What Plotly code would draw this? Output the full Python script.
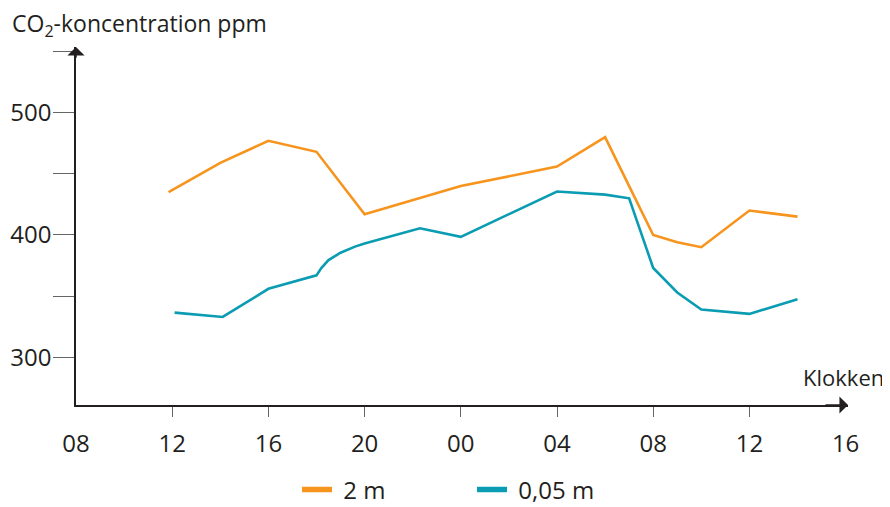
import plotly.graph_objects as go

# ---- data (hours counted from 08 on day 1; 24 = 00, 32 = 08 next day) ----
hours_2m = [11.85, 14, 16, 18, 20, 24, 28, 30, 31, 32, 33, 34, 36, 38]
co2_2m = [435, 459, 477, 468, 417, 440, 456, 480, 440, 400, 394, 390, 420, 415]

hours_005m = [12.1, 14.1, 16, 18, 18.2, 18.5, 19, 19.6, 20, 22.3, 24, 28, 30, 31, 32, 33, 34, 36, 38]
co2_005m = [336.5, 333, 356, 367, 373, 379.5, 385.5, 390.5, 393, 405.5, 398.5, 435.5, 433, 430, 373, 353, 339, 335.5, 347.5]

x_tick_marks = [12, 16, 20, 24, 28, 32, 36]
x_label_vals = [8, 12, 16, 20, 24, 28, 32, 36, 40]
x_label_text = ["08", "12", "16", "20", "00", "04", "08", "12", "16"]
y_label_vals = [300, 400, 500]
y_label_text = ["300", "400", "500"]
y_minor_step = 50

ORANGE = "#F7941D"
TEAL = "#0A9CB2"
TXT = "#231F20"
FONT = "Open Sans, Noto Sans, sans-serif"

X_RANGE = [8, 40.1]
Y_RANGE = [261, 553.7]

fig = go.Figure()
fig.add_trace(go.Scatter(x=hours_2m, y=co2_2m, mode="lines",
                         line=dict(color=ORANGE, width=2.6), showlegend=False, hoverinfo="skip"))
fig.add_trace(go.Scatter(x=hours_005m, y=co2_005m, mode="lines",
                         line=dict(color=TEAL, width=2.6), showlegend=False, hoverinfo="skip"))
# legend entries
fig.add_trace(go.Scatter(x=[None], y=[None], mode="lines", name="\u00a02 m",
                         line=dict(color=ORANGE, width=5.5), legend="legend"))
fig.add_trace(go.Scatter(x=[None], y=[None], mode="lines", name="\u00a00,05 m",
                         line=dict(color=TEAL, width=5.5), legend="legend2"))
# invisible trace to carry label axis
fig.add_trace(go.Scatter(x=X_RANGE, y=[None, None], xaxis="x2", mode="lines",
                         showlegend=False, hoverinfo="skip"))

legend_common = dict(orientation="h", xanchor="left", y=-0.2374, yanchor="middle",
                     font=dict(family=FONT, size=24, color=TXT),
                     bgcolor="rgba(0,0,0,0)")

fig.update_layout(
    width=882, height=499,
    margin=dict(l=68, r=42, t=39, b=102, pad=0, autoexpand=False),
    paper_bgcolor="white", plot_bgcolor="white",
    font=dict(family=FONT, size=24, color=TXT),
    xaxis=dict(range=X_RANGE, showgrid=False, zeroline=False, automargin=False,
               showline=True, linecolor=TXT, linewidth=1.5,
               ticks="outside", tickvals=x_tick_marks, ticklen=10, tickwidth=1,
               tickcolor="#666", showticklabels=False),
    xaxis2=dict(range=X_RANGE, overlaying="x", anchor="y", side="bottom", automargin=False,
                showgrid=False, zeroline=False, showline=False,
                tickvals=x_label_vals, ticktext=x_label_text,
                ticks="outside", ticklen=17, tickcolor="rgba(0,0,0,0)",
                tickfont=dict(family=FONT, size=24, color=TXT)),
    yaxis=dict(range=Y_RANGE, showgrid=False, zeroline=False, automargin=False,
               showline=True, linecolor=TXT, linewidth=1.5,
               ticks="outside", tickvals=y_label_vals, ticktext=y_label_text,
               ticklen=21, tickwidth=1, tickcolor="#666",
               ticklabelstandoff=-3,
               minor=dict(ticks="outside", dtick=y_minor_step, tick0=0, ticklen=21,
                          tickwidth=1, tickcolor="#666", showgrid=False),
               tickfont=dict(family=FONT, size=24, color=TXT)),
    legend=dict(x=0.2863, **legend_common),
    legend2=dict(x=0.5130, **legend_common),
    showlegend=True,
)

# axis arrowheads
fig.add_annotation(x=X_RANGE[1], y=Y_RANGE[0], ax=X_RANGE[1] - 1, ay=Y_RANGE[0],
                   xref="x", yref="y", axref="x", ayref="y", text="",
                   showarrow=True, arrowhead=1, arrowsize=1.9, arrowwidth=1.5,
                   arrowcolor=TXT, standoff=0)
fig.add_annotation(x=X_RANGE[0], y=Y_RANGE[1], ax=X_RANGE[0], ay=Y_RANGE[1] - 10,
                   xref="x", yref="y", axref="x", ayref="y", text="",
                   showarrow=True, arrowhead=1, arrowsize=1.9, arrowwidth=1.5,
                   arrowcolor=TXT, standoff=0)

# axis titles
fig.add_annotation(text="CO<sub>2</sub>-koncentration ppm", xref="paper", yref="paper",
                   x=-0.0855, y=1.0615, xanchor="left", yanchor="middle",
                   showarrow=False, font=dict(family=FONT, size=23, color=TXT))
fig.add_annotation(text="Klokken", xref="paper", yref="paper",
                   x=1.049, y=0.078, xanchor="right", yanchor="middle",
                   showarrow=False, font=dict(family=FONT, size=22, color=TXT))

fig.write_html("out.html")
